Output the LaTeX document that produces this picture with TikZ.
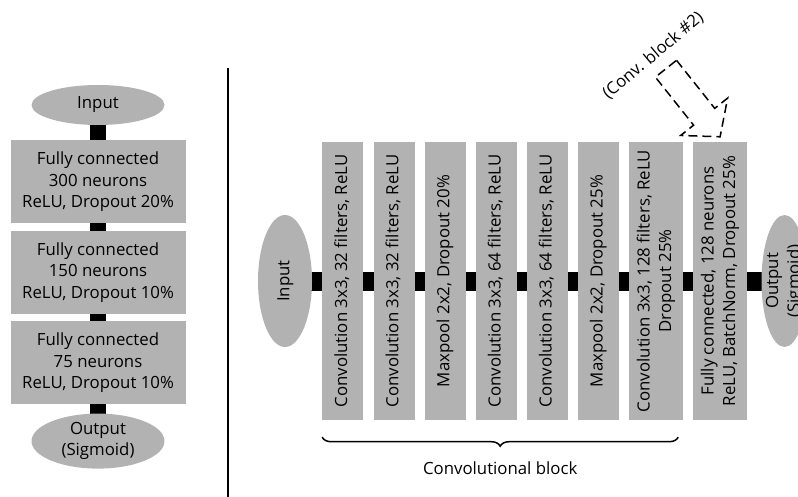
\documentclass[tikz,border=0pt]{standalone}
\usepackage{fontspec}
\setmainfont{Open Sans}
\usepackage{graphicx}
\usetikzlibrary{positioning,shapes.geometric,backgrounds,decorations.pathreplacing}
\newcommand{\vlabel}[1]{\rotatebox{90}{\begin{tabular}{@{}c@{}}#1\end{tabular}}}

\begin{document}
\begin{tikzpicture}[x=1pt, y=1pt, node distance=9.7pt, font=\fontsize{16.8}{21.5}\selectfont,
  oval/.style = {ellipse, fill=black!30, align=center, inner sep=-10pt},
  fc/.style = {fill=black!30, minimum width=175pt, minimum height=83pt, align=center, inner sep=0pt},
  conv/.style = {fill=black!30, minimum width=41pt, minimum height=278pt, inner sep=0pt},
  wide/.style = {conv, minimum width=54pt},
  vlink/.style = {line width=16pt},
  hlink/.style = {line width=19pt}]
\useasboundingbox (0,0) rectangle (798,-497);
\node[oval, minimum width=133pt, minimum height=40pt] (in1) at (98,-105) {Input};
\node[fc] (fc1) [below=15pt of in1] {Fully connected\\300 neurons\\ReLU, Dropout 20\%};
\node[fc] (fc2) [below=7pt of fc1] {Fully connected\\150 neurons\\ReLU, Dropout 10\%};
\node[fc] (fc3) [below=7pt of fc2] {Fully connected\\75 neurons\\ReLU, Dropout 10\%};
\node[oval, minimum width=133pt, minimum height=55pt] (out1) [below=9pt of fc3] {Output\\(Sigmoid)};
\draw[line width=2pt] (228,-68) -- (228,-497);
\node[oval, minimum width=54pt, minimum height=132pt] (in2) at (285,-281) {\vlabel{Input}};
\node[conv] (c1) [right=10pt of in2] {\vlabel{Convolution 3x3, 32 filters, ReLU}};
\node[conv] (c2) [right=of c1] {\vlabel{Convolution 3x3, 32 filters, ReLU}};
\node[conv] (c3) [right=of c2] {\vlabel{Maxpool 2x2, Dropout 20\%}};
\node[conv] (c4) [right=of c3] {\vlabel{Convolution 3x3, 64 filters, ReLU}};
\node[conv] (c5) [right=of c4] {\vlabel{Convolution 3x3, 64 filters, ReLU}};
\node[conv] (c6) [right=of c5] {\vlabel{Maxpool 2x2, Dropout 25\%}};
\node[wide] (c7) [right=of c6] {\vlabel{Convolution 3x3, 128 filters, ReLU\\Dropout 25\%}};
\node[wide] (c8) [right=of c7] {\vlabel{Fully connected, 128 neurons\\ReLU, BatchNorm, Dropout 25\%}};
\node[oval, minimum width=46pt, minimum height=132pt] (out2) [right=14pt of c8] {\vlabel{Output\\(Sigmoid)}};
\begin{scope}[on background layer]
\foreach \a/\b in {in1/fc1, fc1/fc2, fc2/fc3, fc3/out1}
  \draw[vlink] (\a.center) -- (\b.center);
\foreach \a/\b in {in2/c1, c1/c2, c2/c3, c3/c4, c4/c5, c5/c6, c6/c7, c7/c8, c8/out2}
  \draw[hlink] (\a.center) -- (\b.center);
\end{scope}
\draw[decorate, decoration={brace, mirror, amplitude=9pt}, line width=1.5pt] ([yshift=-17pt]c1.south west) -- node[below=20pt] (cb) {Convolutional block} ([shift={(-5pt,-17pt)}]c7.south east);
\coordinate (tip) at ([yshift=5pt]c8.north);
\draw[dash pattern=on 9pt off 5pt, line width=1.5pt, shift={(tip)}, rotate=-51.5] (-87,13.5) -- (-25.6,13.5) -- (-25.6,30) -- (0,0) -- (-25.6,-30) -- (-25.6,-13.5) -- (-87,-13.5) -- cycle;
\node[rotate=40] (note) at ([shift={(-67pt,81pt)}]tip) {(Conv. block \#2)};
\end{tikzpicture}
\end{document}
